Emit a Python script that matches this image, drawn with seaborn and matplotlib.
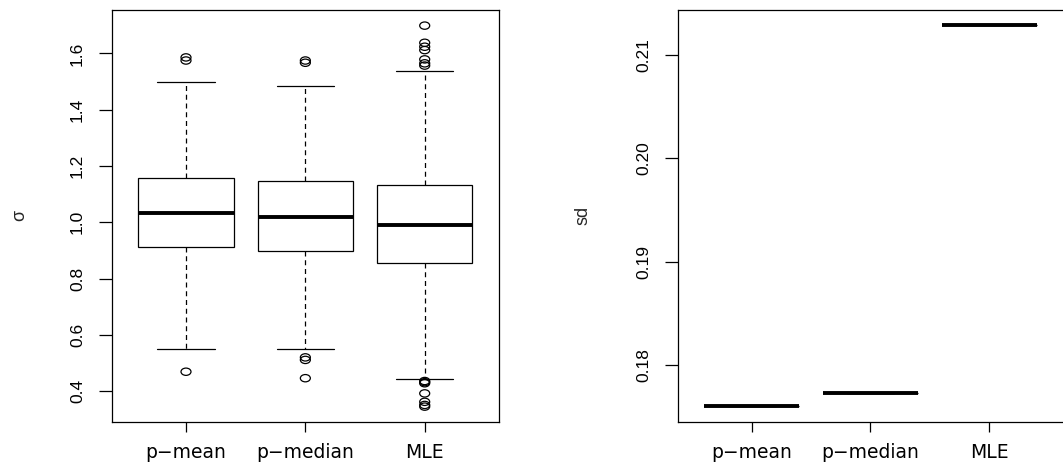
import numpy as np
import pandas as pd
import matplotlib
matplotlib.use("Agg")
import matplotlib.pyplot as plt
from matplotlib.path import Path
from matplotlib.transforms import Affine2D
import seaborn as sns

# ---------------- data ----------------
categories = ["p\u2212mean", "p\u2212median", "MLE"]

# left panel: boxplot statistics of sigma estimates
lower_whisker = [0.550, 0.550, 0.444]
q1 = [0.911, 0.899, 0.856]
median = [1.034, 1.020, 0.990]
q3 = [1.156, 1.146, 1.134]
upper_whisker = [1.4975, 1.483, 1.539]

outliers_pmean = [1.586, 1.575, 0.469]
outliers_pmedian = [1.575, 1.567, 0.520, 0.511, 0.446]
outliers_mle = [1.699, 1.638, 1.624, 1.612, 1.579, 1.565, 1.557,
                0.436, 0.432, 0.428, 0.392, 0.362, 0.351, 0.345]

# right panel: standard deviation of each estimator
sd_values = [0.17600, 0.17732, 0.21284]

left_yticks = [0.4, 0.6, 0.8, 1.0, 1.2, 1.4, 1.6]
right_yticks = [0.18, 0.19, 0.20, 0.21]

# ---------------- build tables ----------------
box_rows = []
for c, a, b, m, d, e in zip(categories, lower_whisker, q1, median, q3, upper_whisker):
    for v in (a, b, m, d, e):
        box_rows.append({"est": c, "sigma": v})
box_df = pd.DataFrame(box_rows)

out_rows = []
for c, vals in zip(categories, [outliers_pmean, outliers_pmedian, outliers_mle]):
    for v in vals:
        out_rows.append({"est": c, "sigma": v})
out_df = pd.DataFrame(out_rows)

sd_df = pd.DataFrame({"est": categories, "sd": sd_values})

# ---------------- style ----------------
sns.set_theme(style="white")
plt.rcParams["font.family"] = ["Liberation Sans", "DejaVu Sans"]
plt.rcParams["axes.linewidth"] = 0.9
plt.rcParams["axes.edgecolor"] = "black"

W, H = 1063, 468
fig = plt.figure(figsize=(W / 100, H / 100), dpi=100)

def px_axes(x0, x1, y0, y1):
    return fig.add_axes([x0 / W, (H - y1) / H, (x1 - x0) / W, (y1 - y0) / H])

ax1 = px_axes(112, 498.7, 10, 421.7)
ax2 = px_axes(678.3, 1062.6, 10, 421.7)

# hollow, slightly wide circle marker (as in the reference)
ellipse = Path.unit_circle().transformed(Affine2D().scale(1.37, 1.0))

# left: boxplot
sns.boxplot(data=box_df, x="est", y="sigma", order=categories, ax=ax1,
            whis=(0, 100), width=0.8, fill=True, color="white",
            linecolor="black", linewidth=0.9, showfliers=False,
            capwidths=0.48,
            medianprops=dict(linewidth=2.8, color="black"),
            whiskerprops=dict(linestyle=(0, (4, 3)), linewidth=0.9, color="black"),
            capprops=dict(linewidth=0.9, color="black"),
            boxprops=dict(facecolor="white", edgecolor="black", linewidth=0.9))
sns.stripplot(data=out_df, x="est", y="sigma", order=categories, ax=ax1,
              jitter=False, marker=ellipse, size=7.2, color="black",
              linewidth=0.9, edgecolor="black")
for coll in ax1.collections:
    coll.set_facecolor("none")
    coll.set_edgecolor("black")
    coll.set_linewidth(0.9)

# right: degenerate boxplot (single value per estimator)
sns.boxplot(data=sd_df, x="est", y="sd", order=categories, ax=ax2,
            whis=(0, 100), width=0.8, color="white", linecolor="black",
            linewidth=0.9, showfliers=False,
            medianprops=dict(linewidth=2.8, color="black"))

# ---------------- axes cosmetics ----------------
for ax, ticks, lims in [(ax1, left_yticks, (0.2914, 1.7545)),
                        (ax2, right_yticks, (0.17453, 0.21431))]:
    ax.set_xlim(-0.62, 2.62)
    ax.set_ylim(*lims)
    ax.set_yticks(ticks)
    ax.set_xticks(range(len(categories)))
    ax.set_xticklabels(categories, fontsize=13.5, family=["DejaVu Sans"])
    ax.set_xlabel("")
    ax.tick_params(axis="x", length=7.5, width=0.9, pad=8, colors="black",
                   direction="out", bottom=True)
    ax.tick_params(axis="y", length=9.5, width=0.9, pad=10, colors="black",
                   direction="out", left=True)
    for s in ax.spines.values():
        s.set_visible(True)
        s.set_color("black")
        s.set_linewidth(0.9)

ax2.spines["right"].set_visible(False)

ax1.set_yticklabels([f"{t:.1f}" for t in left_yticks], rotation=90, va="center", fontsize=12.5)
ax2.set_yticklabels([f"{t:.2f}" for t in right_yticks], rotation=90, va="center", fontsize=12.5)

ax1.set_ylabel("\u03c3", fontsize=13, va="center")
ax1.yaxis.set_label_coords((20 - 112) / 386.7, 0.5)
ax2.set_ylabel("sd", fontsize=13, va="center")
ax2.yaxis.set_label_coords((583 - 678.3) / 384.3, 0.5)

fig.savefig("out.png", dpi=100, facecolor="white")
